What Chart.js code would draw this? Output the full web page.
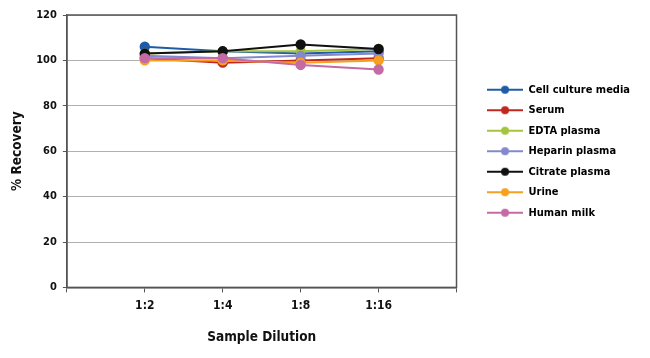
<!DOCTYPE html>
<html>
<head>
<meta charset="utf-8">
<script src="https://cdn.jsdelivr.net/npm/chart.js@4"></script>
<style>
html,body{margin:0;padding:0;background:#fff}
#wrap{width:650px;height:358px}
</style>
</head>
<body>
<div id="wrap"><canvas id="recoveryChart" width="650" height="358"></canvas></div>
<script>
const dilutions = ["", "1:2", "1:4", "1:8", "1:16", ""]
const seriesNames = ["Cell culture media", "Serum", "EDTA plasma", "Heparin plasma", "Citrate plasma", "Urine", "Human milk"]
const seriesColors = ["#1f5ca6", "#c0281e", "#a3c43c", "#8488cc", "#111111", "#f5a01e", "#c46aa4"]

const cellCulture = [null, 106, 104, 103, 104, null]
const serum = [null, 101, 99, 100, 101, null]
const edta = [null, 103, 104, 104, 105, null]
const heparin = [null, 102, 101, 102, 103, null]
const citrate = [null, 103, 104, 107, 105, null]
const urine = [null, 100, 100, 99, 100, null]
const humanMilk = [null, 101, 101, 98, 96, null]

const allSeries = [cellCulture, serum, edta, heparin, citrate, urine, humanMilk]

const fontFam = "'DejaVu Sans Condensed','Liberation Sans Narrow',sans-serif"

// little line+dot picture for the legend
function legendIcon(color){
let c = document.createElement("canvas")
c.width = 36
c.height = 12
let g = c.getContext("2d")
g.strokeStyle = color
g.lineWidth = 2
g.beginPath()
g.moveTo(0,6)
g.lineTo(36,6)
g.stroke()
g.fillStyle = color
g.beginPath()
g.arc(18,6,4,0,Math.PI*2)
g.fill()
return c
}

const boxPlugin = {
id:"boxPlugin",
afterDatasetsDraw(chart){
let a = chart.chartArea
let ctx = chart.ctx
ctx.save()
ctx.strokeStyle = "#555"
ctx.lineWidth = 1.5
ctx.strokeRect(a.left, a.top, a.right - a.left, a.bottom - a.top)
ctx.restore()
}
}

const datasets = allSeries.map(function(vals, i){
return {
label: seriesNames[i],
data: vals,
borderColor: seriesColors[i],
backgroundColor: seriesColors[i],
borderWidth: 2,
pointRadius: 4.2,
pointHoverRadius: 4.2,
pointStyle: "circle",
order: allSeries.length - i
}
})

new Chart(document.getElementById("recoveryChart"), {
type: "line",
data: { labels: dilutions, datasets: datasets },
plugins: [boxPlugin],
options: {
responsive: false,
animation: false,
layout: { padding: { left: 0, right: 10, top: 15, bottom: 8 } },
plugins: {
tooltip: { enabled: false },
legend: {
position: "right",
align: "center",
fullSize: false,
maxWidth: 200,
labels: {
usePointStyle: true,
pointStyleWidth: 36,
padding: 9.5,
color: "#111",
font: { family: fontFam, size: 11, weight: "bold" },
generateLabels(chart){
return chart.data.datasets.map(function(ds, i){
return {
text: ds.label,
pointStyle: legendIcon(seriesColors[i]),
fillStyle: seriesColors[i],
strokeStyle: seriesColors[i],
lineWidth: 0,
datasetIndex: i,
hidden: false
}
})
}
}
}
},
scales: {
x: {
offset: false,
grid: { display: true, drawOnChartArea: false, tickLength: 5, color: "#555" },
border: { color: "#555", width: 1.5 },
ticks: { color: "#111", font: { family: fontFam, size: 12, weight: "bold" }, padding: 6, maxRotation: 0 },
title: { display: true, text: "Sample Dilution", color: "#111", font: { family: fontFam, size: 13.5, weight: "bold" }, padding: { top: 11 } }
},
y: {
min: 0,
max: 120,
ticks: { stepSize: 20, color: "#111", font: { family: fontFam, size: 11, weight: "bold" }, padding: 6 },
grid: { color: "#b0b0b0", tickColor: "#555", tickLength: 4, lineWidth: 1 },
border: { color: "#555", width: 1.5 },
title: { display: true, text: "% Recovery", color: "#111", font: { family: fontFam, size: 13.5, weight: "bold" }, padding: { top: 9, bottom: 5 } }
},
gap: {
position: "right",
display: true,
min: 0,
max: 1,
grid: { display: false },
border: { display: false },
ticks: { display: false },
afterFit(scale){ scale.width = 21 }
}
}
}
})
</script>
</body>
</html>
